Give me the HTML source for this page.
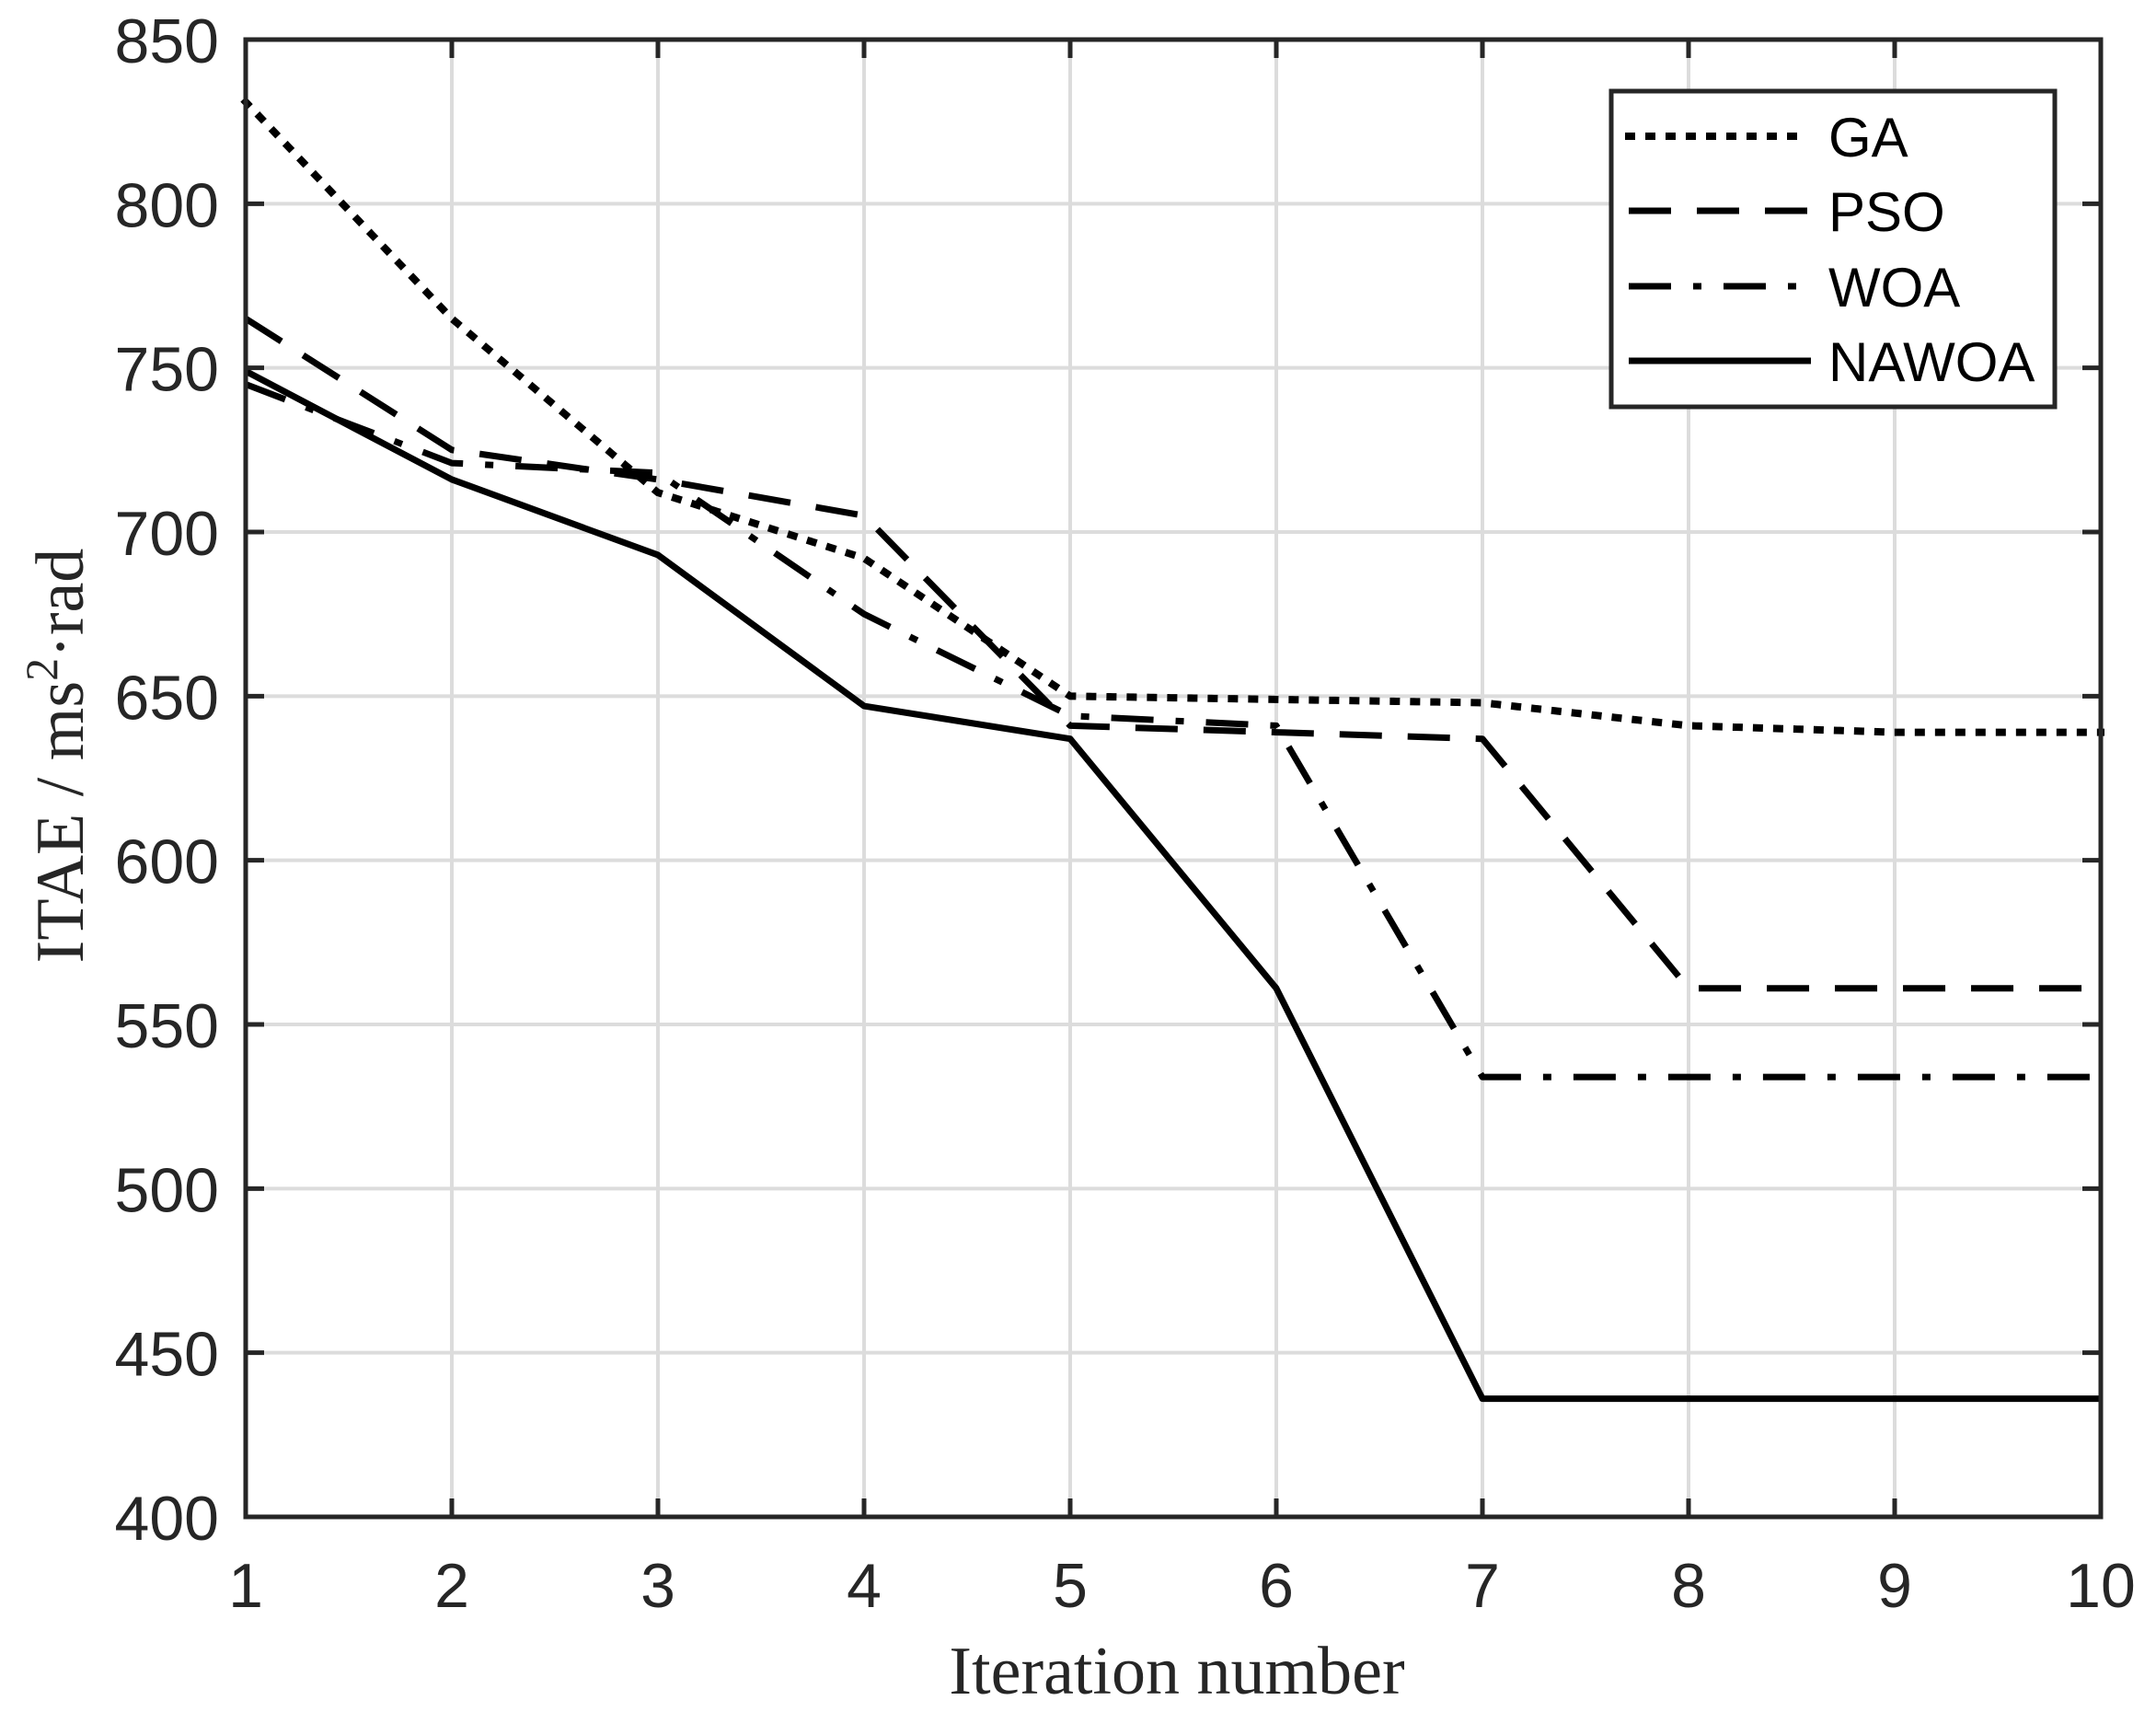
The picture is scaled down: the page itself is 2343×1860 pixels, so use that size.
<!DOCTYPE html>
<html><head><meta charset="utf-8"><style>body{margin:0;background:#fff}svg{display:block}</style></head>
<body>
<svg id="chart" width="2343" height="1860" xmlns="http://www.w3.org/2000/svg">
<g id="grid"></g>
<g id="series"></g>
<rect x="267" y="43" width="2016" height="1605" fill="none" stroke="#262626" stroke-width="5"/>
<g id="ticks"></g>
<text x="1279" y="1840" font-family="Liberation Serif, serif" font-size="74" text-anchor="middle" fill="#262626">Iteration number</text>
<text transform="translate(90,821) rotate(-90)" font-family="Liberation Serif, serif" font-size="74" text-anchor="middle" fill="#262626">ITAE / ms<tspan baseline-shift="super" font-size="50">2</tspan>·rad</text>
<g>
<rect x="1751" y="99" width="482" height="343" fill="#fff" stroke="#262626" stroke-width="5"/>
<g id="legend-items"></g>
</g>
</svg>
<script>
const iterations=[1,2,3,4,5,6,7,8,9,10];
const gaValues=[831,765,712,692,650,649,648,641,639,639];
const psoValues=[765,725,716,705,641,639,637,561,561,561];
const woaValues=[745,721,718,675,644,641,534,534,534,534];
const nawoaValues=[749,716,693,647,637,561,436,436,436,436];
const seriesNames=["GA","PSO","WOA","NAWOA"];
const yTicks=[400,450,500,550,600,650,700,750,800,850];
const xTicks=[1,2,3,4,5,6,7,8,9,10];

const NS="http://www.w3.org/2000/svg";
const L=267,R=2283,T=43,B=1648;
const xs=v=>L+(v-1)/9*(R-L);
const ys=v=>B-(v-400)/450*(B-T);
const dashes=["3 19","46 28","46 24 9 24",""];
const caps=["square","butt","butt","butt"];
const allVals=[gaValues,psoValues,woaValues,nawoaValues];
const grid=document.getElementById('grid'),ticks=document.getElementById('ticks'),ser=document.getElementById('series'),leg=document.getElementById('legend-items');
function mk(tag,attrs,parent){const e=document.createElementNS(NS,tag);for(const k in attrs)e.setAttribute(k,attrs[k]);parent.appendChild(e);return e;}
xTicks.forEach(t=>{
  const g=mk('line',{x1:xs(t),x2:xs(t),y1:T,y2:B,stroke:'#dcdcdc','stroke-width':4},grid);
  
  
  const tk=mk('line',{x1:xs(t),x2:xs(t),y1:B,y2:B-20,stroke:'#262626','stroke-width':5},ticks);
  
  
  const tk2=mk('line',{x1:xs(t),x2:xs(t),y1:T,y2:T+20,stroke:'#262626','stroke-width':5},ticks);
  
  
  const tx=mk('text',{x:xs(t),y:1746,'font-family':'Liberation Sans, sans-serif','font-size':68,'text-anchor':'middle',fill:'#262626'},ticks);
  tx.textContent=t;
  
  
});
yTicks.forEach(t=>{
  const g=mk('line',{x1:L,x2:R,y1:ys(t),y2:ys(t),stroke:'#dcdcdc','stroke-width':4},grid);
  
  
  const tk=mk('line',{x1:L,x2:L+20,y1:ys(t),y2:ys(t),stroke:'#262626','stroke-width':5},ticks);
  
  
  const tk2=mk('line',{x1:R,x2:R-20,y1:ys(t),y2:ys(t),stroke:'#262626','stroke-width':5},ticks);
  
  
  const tx=mk('text',{x:238,y:ys(t)+25,'font-family':'Liberation Sans, sans-serif','font-size':68,'text-anchor':'end',fill:'#262626'},ticks);
  tx.textContent=t;
  
  
});
const legY=[148,229,311,392];
allVals.forEach((vals,i)=>{
  const pts=vals.map((v,j)=>xs(iterations[j])+','+ys(v)).join(' ');
  const p=mk('polyline',{points:pts,fill:'none',stroke:'#000','stroke-width':i==0?8:7,'stroke-dasharray':dashes[i],'stroke-linecap':caps[i],'stroke-linejoin':'round'},ser);
  
  
  const ll=mk('line',{x1:1770,x2:1968,y1:legY[i],y2:legY[i],stroke:'#000','stroke-width':i==0?8:7,'stroke-dasharray':dashes[i],'stroke-linecap':caps[i]},leg);
  
  
  const lt=mk('text',{x:1987,y:legY[i]+22,'font-family':'Liberation Sans, sans-serif','font-size':60,fill:'#000'},leg);
  lt.textContent=seriesNames[i];
  
  
});
</script>
</body></html>
